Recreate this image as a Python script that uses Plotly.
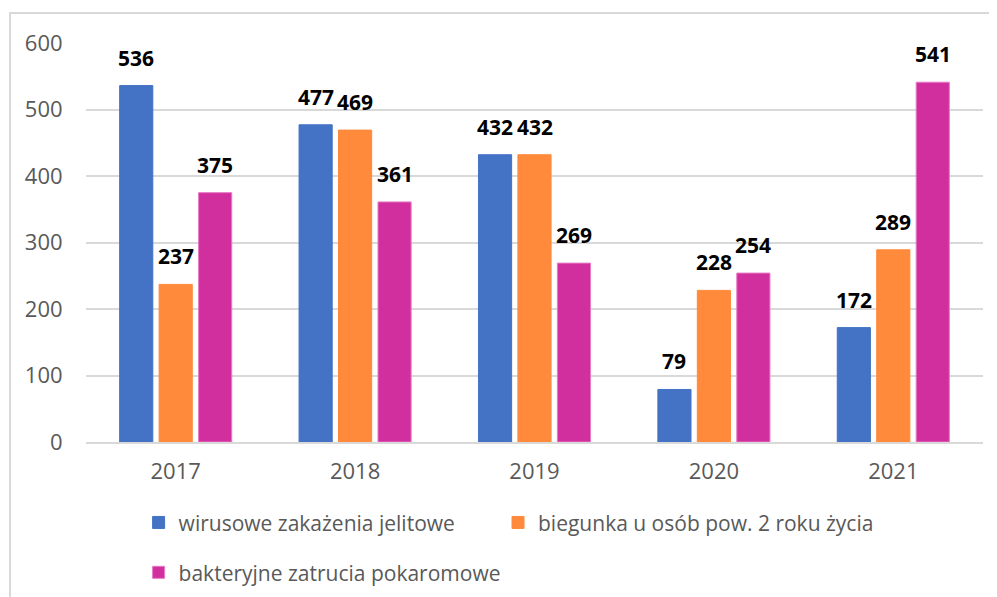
import plotly.graph_objects as go

years = ["2017", "2018", "2019", "2020", "2021"]
series_names = [
    "wirusowe zakażenia jelitowe",
    "biegunka u osób pow. 2 roku życia",
    "bakteryjne zatrucia pokaromowe",
]
wirusowe = [536, 477, 432, 79, 172]
biegunka = [237, 469, 432, 228, 289]
bakteryjne = [375, 361, 269, 254, 541]
colors = ["#4472C4", "#FF8A3C", "#D22F9E"]
outline = ["#4472C4", "#FF8A3C", "#E879C4"]

all_values = [wirusowe, biegunka, bakteryjne]
FONT = "Open Sans"

bargap = 0.34
groupgap = 0.16
slot = (1 - bargap) / 3

fig = go.Figure()
legends = ["legend", "legend3", "legend2"]
for k, (name, vals) in enumerate(zip(series_names, all_values)):
    fig.add_trace(go.Bar(
        x=years, y=vals, name=name,
        marker=dict(color=colors[k], line=dict(color=outline[k], width=1)),
        legend=legends[k],
    ))
    for i, v in enumerate(vals):
        fig.add_annotation(
            x=i + (k - 1) * slot, y=v, xref="x", yref="y",
            text="<b>%d</b>" % v, showarrow=False,
            yanchor="bottom", yshift=12,
            font=dict(family=FONT, size=21, color="#000000"),
        )

fig.add_shape(type="rect", xref="paper", yref="paper",
              x0=-0.0847, x1=1.2, y0=-0.6, y1=1.075,
              line=dict(color="#D9D9D9", width=2), layer="below")

leg_common = dict(orientation="h", xref="container", yref="container",
                  xanchor="left", yanchor="top",
                  font=dict(size=21, color="#595959"),
                  bgcolor="rgba(0,0,0,0)")

fig.update_layout(
    width=997, height=597,
    margin=dict(l=78, r=22, t=35, b=163, autoexpand=False),
    paper_bgcolor="white", plot_bgcolor="white",
    barmode="group", bargap=bargap, bargroupgap=groupgap,
    font=dict(family=FONT, size=22, color="#595959"),
    xaxis=dict(showgrid=False, ticks="outside", ticklen=9,
               tickcolor="rgba(0,0,0,0)", showline=True,
               linecolor="#D9D9D9", linewidth=2,
               tickfont=dict(size=22, color="#595959")),
    yaxis=dict(range=[0, 600], dtick=100, showgrid=True,
               gridcolor="#D9D9D9", gridwidth=2, zeroline=False,
               ticks="outside", ticklen=18, tickcolor="rgba(0,0,0,0)",
               tickfont=dict(size=22, color="#595959")),
    showlegend=True,
    legend=dict(x=0.131, y=0.172, **leg_common),
    legend3=dict(x=0.4915, y=0.172, **leg_common),
    legend2=dict(x=0.131, y=0.0885, **leg_common),
)

fig.write_html("out.html")
